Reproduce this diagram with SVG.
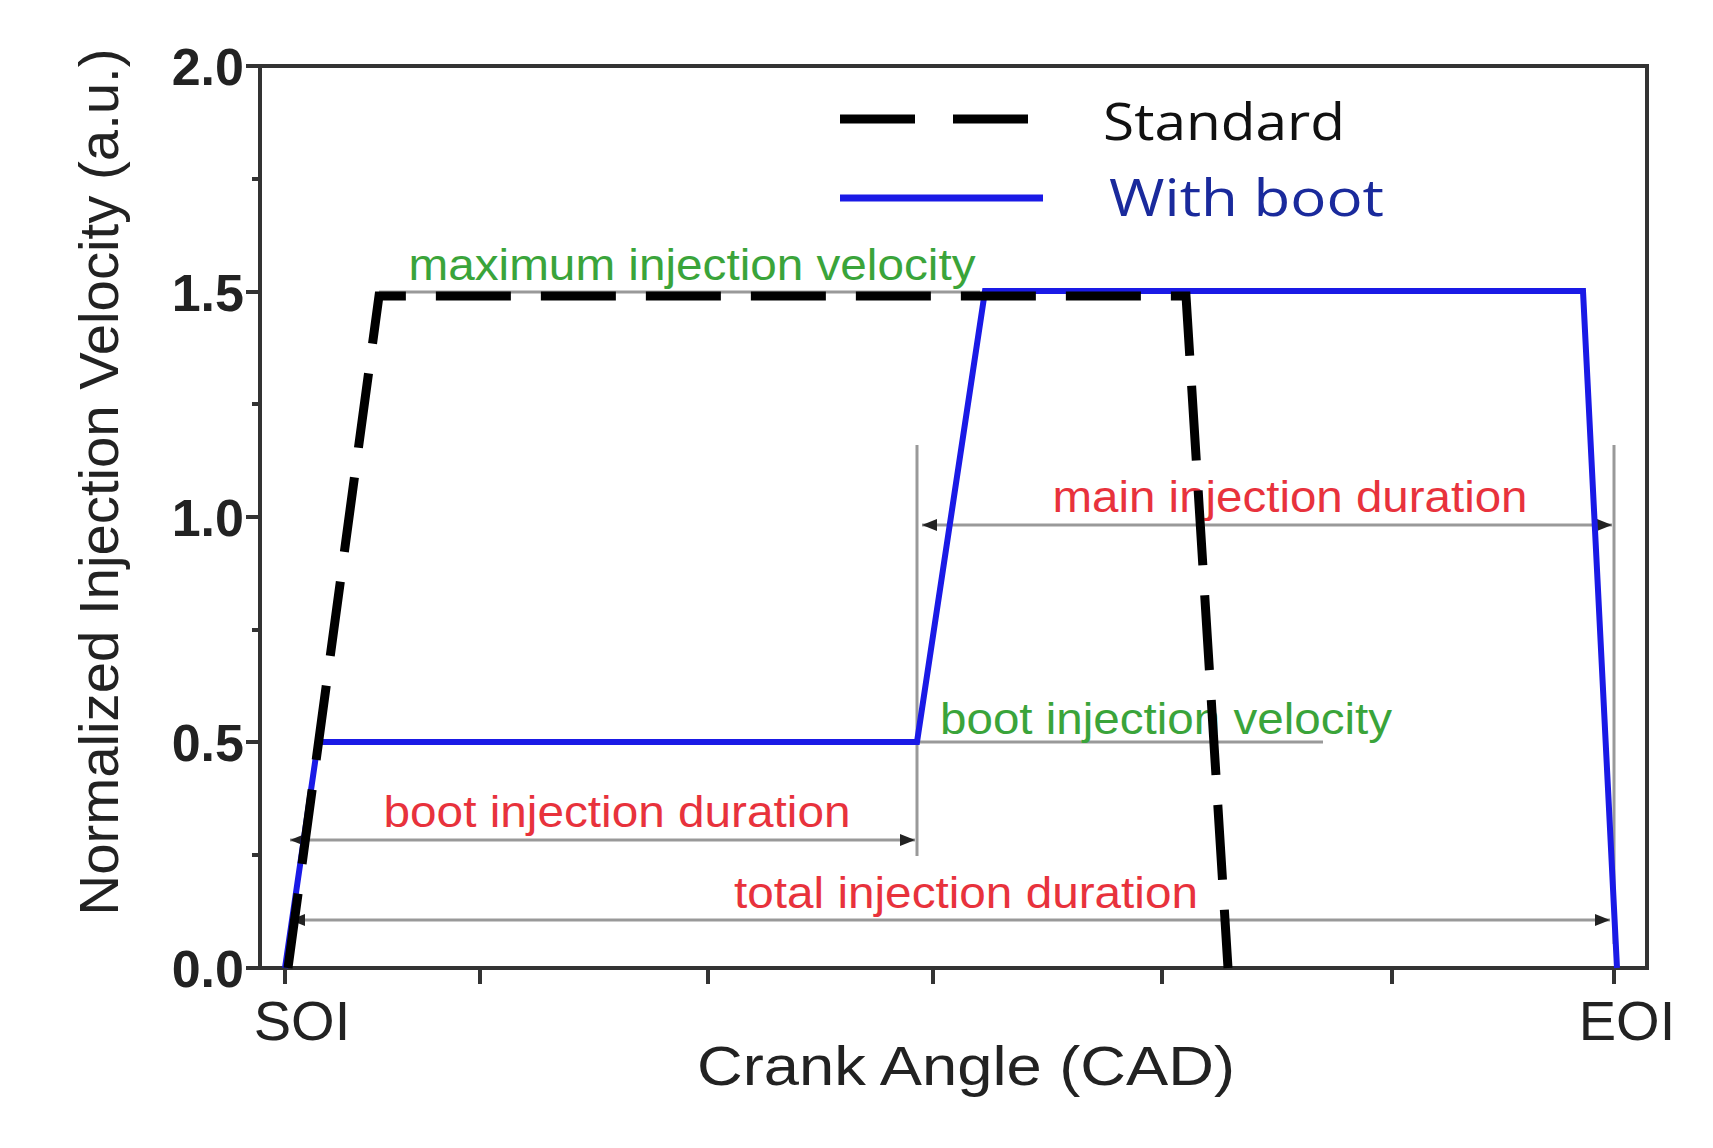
<svg xmlns="http://www.w3.org/2000/svg" width="1713" height="1148" viewBox="0 0 1713 1148">
<defs>
<marker id="ah" viewBox="0 0 10 10" refX="10" refY="5" markerWidth="5" markerHeight="5" orient="auto-start-reverse"><path d="M0,1 L10,5 L0,9 z" fill="#222"/></marker>
<style>
.ax{stroke:#333;stroke-width:4;fill:none}
.tk{font-family:"Liberation Sans",Arial,sans-serif;font-weight:bold;font-size:52px;fill:#222}
.gr{stroke:#999;stroke-width:3;fill:none}
.dim{stroke:#999;stroke-width:3;fill:none;marker-start:url(#ah);marker-end:url(#ah)}
.red{font-family:"Liberation Sans",Arial,sans-serif;font-size:44px;fill:#e8323c;text-anchor:middle}
.grn{font-family:"Liberation Sans",Arial,sans-serif;font-size:44px;fill:#3aa43a;text-anchor:middle}
.lab{font-family:"Liberation Sans",Arial,sans-serif;font-size:56px;fill:#222}
</style>
</defs>
<rect width="1713" height="1148" fill="#fff"/>
<g id="axes">
<rect x="260" y="66" width="1387" height="902" class="ax"/>
<path class="ax" d="M246,66H260M246,292H260M246,517H260M246,742H260M246,968H260M252,179H260M252,404H260M252,630H260M252,855H260M285,968V984M480,968V984M708,968V984M933,968V984M1162,968V984M1392,968V984M1614,968V984"/>
<g class="tk" text-anchor="end">
<text x="244" y="85">2.0</text><text x="244" y="311">1.5</text><text x="244" y="536">1.0</text><text x="244" y="761">0.5</text><text x="244" y="987">0.0</text>
</g>
<text class="lab" x="302" y="1040" text-anchor="middle" font-size="50">SOI</text>
<text class="lab" x="1627" y="1040" text-anchor="middle" font-size="50">EOI</text>
<text class="lab" x="966" y="1085" text-anchor="middle" textLength="538" lengthAdjust="spacingAndGlyphs">Crank Angle (CAD)</text>
<text class="lab" transform="translate(118,482) rotate(-90)" text-anchor="middle" font-size="48" textLength="867" lengthAdjust="spacingAndGlyphs">Normalized Injection Velocity (a.u.)</text>
</g>
<g id="annotations">
<path class="gr" d="M379,292H980M917,445V856M917,742H1323M1614,445V944"/>
<path class="dim" d="M922,525H1612"/>
<path class="dim" d="M290,840H915"/>
<path class="dim" d="M290,920H1610"/>
<text class="grn" x="692" y="280" textLength="567" lengthAdjust="spacingAndGlyphs">maximum injection velocity</text>
<text class="red" x="1290" y="512" textLength="475" lengthAdjust="spacingAndGlyphs">main injection duration</text>
<text class="grn" x="1166" y="734" textLength="452" lengthAdjust="spacingAndGlyphs">boot injection velocity</text>
<text class="red" x="617" y="827" textLength="467" lengthAdjust="spacingAndGlyphs">boot injection duration</text>
<text class="red" x="966" y="908" textLength="464" lengthAdjust="spacingAndGlyphs">total injection duration</text>
</g>
<g id="curves">
<path d="M285,968L318,742H917L985,291H1583L1617,968" stroke="#1a1ae6" stroke-width="6" fill="none"/>
<path d="M288,968L379,296H1186L1228,968" stroke="#000" stroke-width="9" stroke-dasharray="75,30" fill="none"/>
</g>
<g id="legend">
<line x1="840" y1="119" x2="1043" y2="119" stroke="#000" stroke-width="9" stroke-dasharray="75,38"/>
<line x1="840" y1="198" x2="1043" y2="198" stroke="#1a1ae6" stroke-width="7"/>
<text x="1103" y="140" font-family="Open Sans,Liberation Sans,sans-serif" font-size="52" fill="#111" textLength="242" lengthAdjust="spacingAndGlyphs">Standard</text>
<text x="1109" y="216" font-family="Open Sans,Liberation Sans,sans-serif" font-size="52" fill="#1a2a9c" textLength="275" lengthAdjust="spacingAndGlyphs">With boot</text>
</g>
</svg>
